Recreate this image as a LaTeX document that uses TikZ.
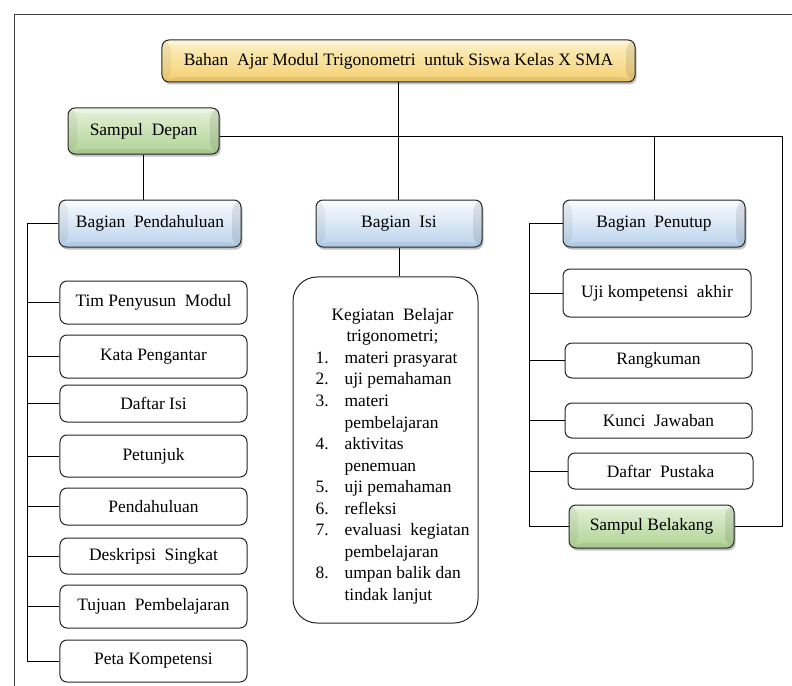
\documentclass[tikz,border=0pt]{standalone}
\usepackage{fontspec}
\setmainfont{Liberation Serif}
\usetikzlibrary{shadows}

\definecolor{ylTop}{HTML}{FDF1C6}
\definecolor{ylBot}{HTML}{F4CF70}
\definecolor{grTop}{HTML}{E4F1D8}
\definecolor{grBot}{HTML}{AFD395}
\definecolor{blTop}{HTML}{F8FBFE}
\definecolor{blBot}{HTML}{B9D2EC}
\definecolor{edge}{HTML}{262626}

\begin{document}
\begin{tikzpicture}[x=1bp,y=-1bp,
  every node/.style={font=\fontsize{17.5}{20}\selectfont, inner sep=0pt},
  plain/.style 2 args={draw=edge, line width=1bp, rounded corners=7bp,
    fill=white, minimum width=#1 bp, minimum height=#2 bp},
  raised/.style={drop shadow={shadow xshift=1.5bp, shadow yshift=-2.5bp,
    opacity=.35, fill=black!70}},
  % bevelled face: four edge strips around an inner flat panel
  bevel/.style={path picture={
    \coordinate (o1) at (path picture bounding box.north west);
    \coordinate (o2) at (path picture bounding box.north east);
    \coordinate (o3) at (path picture bounding box.south east);
    \coordinate (o4) at (path picture bounding box.south west);
    \coordinate (i1) at ([shift={(9,5)}]o1);
    \coordinate (i2) at ([shift={(-9,5)}]o2);
    \coordinate (i3) at ([shift={(-9,-5)}]o3);
    \coordinate (i4) at ([shift={(9,-5)}]o4);
    \fill[white, opacity=.35] (o1) -- (o2) -- (i2) -- (i1) -- cycle;
    \fill[black, opacity=.05] (o1) -- (i1) -- (i4) -- (o4) -- cycle;
    \fill[black, opacity=.09] (o2) -- (o3) -- (i3) -- (i2) -- cycle;
    \fill[black, opacity=.06] (o4) -- (i4) -- (i3) -- (o3) -- cycle;
  }},
  yellowbox/.style 2 args={plain={#1}{#2}, raised, top color=ylTop, bottom color=ylBot, bevel},
  greenbox/.style 2 args={plain={#1}{#2}, raised, top color=grTop, bottom color=grBot, bevel},
  bluebox/.style 2 args={plain={#1}{#2}, raised, top color=blTop, bottom color=blBot, bevel},
  wire/.style={draw=black, line width=1bp}
]
\useasboundingbox (0,0) rectangle (792,686);

% page frame
\draw[line width=1bp, draw=black!75] (14,686) -- (14,15) -- (792,15);

% top level
\node[yellowbox={473}{42}] (title) at (398.5,61) {Bahan\ \ Ajar\ Modul\ Trigonometri\ \ untuk Siswa Kelas X SMA};
\node[greenbox={151}{46}] (sd) at (143.5,131) {Sampul\ \ Depan};

% section heads
\node[bluebox={182}{47}] (pend) at (150,223.5) {Bagian\ \ Pendahuluan};
\node[bluebox={166}{47}] (isi) at (399,223.5) {Bagian\ \ Isi};
\node[bluebox={182}{47}] (penutup) at (654,223.5) {Bagian\ \ Penutup};

% opening part
\node[plain={187}{43}] (tim) at (153.5,302.5) {Tim\ Penyusun\ \ Modul};
\node[plain={187}{43}] (kata) at (153.5,356.5) {Kata Pengantar};
\node[plain={187}{37}] (daftar) at (153.5,403.5) {Daftar Isi};
\node[plain={187}{42}] (petunjuk) at (153.5,456) {Petunjuk};
\node[plain={187}{37}] (pendh) at (153.5,506.5) {Pendahuluan};
\node[plain={187}{36}] (desk) at (153.5,556) {Deskripsi\ \ Singkat};
\node[plain={187}{43}] (tujuan) at (153.5,606.5) {Tujuan\ \ Pembelajaran};
\node[plain={187}{42}] (peta) at (153.5,661) {Peta Kompetensi};

% content part
\node[draw=edge, line width=1bp, rounded corners=24bp, minimum width=185bp,
      minimum height=346bp] (kb) at (385.5,450) {};
\node (kbtext) at (392.5,456) {\fontsize{17.5}{21.6}\selectfont
  \begin{tabular}{@{}p{29bp}@{}l@{}}
  \multicolumn{2}{c}{Kegiatan\ \ Belajar}\\
  \multicolumn{2}{c}{trigonometri;}\\
  1. & materi prasyarat\\
  2. & uji pemahaman\\
  3. & materi\\
     & pembelajaran\\
  4. & aktivitas\\
     & penemuan\\
  5. & uji pemahaman\\
  6. & refleksi\\
  7. & evaluasi\ \ kegiatan\\
     & pembelajaran\\
  8. & umpan balik dan\\
     & tindak lanjut
  \end{tabular}};

% closing part
\node[plain={188}{48}] (uji) at (657,293) {Uji kompetensi\ \ akhir};
\node[plain={187}{35}] (rang) at (658.5,360.5) {Rangkuman};
\node[plain={187}{35}] (kunci) at (658.5,420.5) {Kunci\ \ Jawaban};
\node[plain={185}{36}] (pustaka) at (660.5,471) {Daftar\ \ Pustaka};
\node[greenbox={165}{43}] (sb) at (651.5,526.5) {Sampul Belakang};

% connectors
\coordinate (rt) at (782,137);
\coordinate (lb) at (27,226);
\coordinate (rb) at (529,226);

\draw[wire] (title.south) -- (title.south |- isi.north);
\draw[wire] (sd.east |- rt) -- (rt) -- (rt |- sb.east) -- (sb.east);
\draw[wire] (penutup.north) -- (penutup.north |- rt);
\draw[wire] (sd.south) -- (sd.south |- pend.north);
\draw[wire] (isi.south) -- (isi.south |- kb.north);

\draw[wire] (pend.west) -- (pend.west -| lb) -- (lb |- peta.west) -- (peta.west);
\foreach \n in {tim,kata,daftar,petunjuk,pendh,desk,tujuan}
  \draw[wire] (lb |- \n.west) -- (\n.west);

\draw[wire] (penutup.west) -- (penutup.west -| rb) -- (rb |- sb.west) -- (sb.west);
\foreach \n in {uji,rang,kunci,pustaka}
  \draw[wire] (rb |- \n.west) -- (\n.west);
\end{tikzpicture}
\end{document}
